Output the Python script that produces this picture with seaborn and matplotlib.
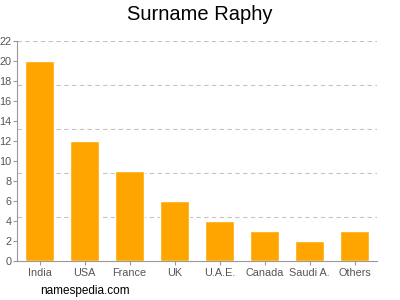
import matplotlib
matplotlib.use("Agg")
import matplotlib.pyplot as plt
import seaborn as sns
import pandas as pd

countries = ["India", "USA", "France", "UK", "U.A.E.", "Canada", "Saudi A.", "Others"]
counts = [20, 12, 9, 6, 4, 3, 2, 3]
yticks = list(range(0, 23, 2))
ymax = 22
grid_divisions = 5

sns.set_style("white")
plt.rcParams['font.family'] = ['Liberation Sans', 'DejaVu Sans']

df = pd.DataFrame({"country": countries, "count": counts})

fig = plt.figure(figsize=(4, 3), dpi=100)
ax = fig.add_axes([0.0425, 0.13, 0.9, 0.7333])
sns.barplot(data=df, x="country", y="count", color="#FFA500", saturation=1,
            width=0.63, ax=ax, zorder=3)

ax.set_ylim(0, ymax)
ax.set_xlim(-0.5, len(countries) - 0.5)
ax.set_yticks(yticks)
ax.yaxis.remove_overlapping_locs = False
ax.set_yticks([ymax * i / grid_divisions for i in range(1, grid_divisions + 1)], minor=True)
ax.grid(False)
ax.yaxis.grid(True, which="minor", linestyle=(0, (4, 3)), color="#c4c4c4", linewidth=0.8, zorder=0)
ax.tick_params(axis="y", which="minor", length=0)
ax.tick_params(axis="both", which="major", colors="#999999", labelcolor="#555555",
               labelsize=7.8, length=3, width=0.8, direction="out", pad=1)
ax.tick_params(axis="y", which="major", left=True)
ax.tick_params(axis="x", which="major", bottom=True, pad=2)
ax.set_xlabel("")
ax.set_ylabel("")
for s in ["top", "right"]:
    ax.spines[s].set_visible(False)
for s in ["left", "bottom"]:
    ax.spines[s].set_color("#999999")
    ax.spines[s].set_linewidth(0.8)

fig.text(0.5, 0.952, "Surname Raphy", ha="center", va="center", fontsize=14.5, color="#000000")
fig.text(0.1, 0.03, "namespedia.com", ha="left", va="center", fontsize=8.5, color="#000000")

fig.savefig("out.png", dpi=100)
